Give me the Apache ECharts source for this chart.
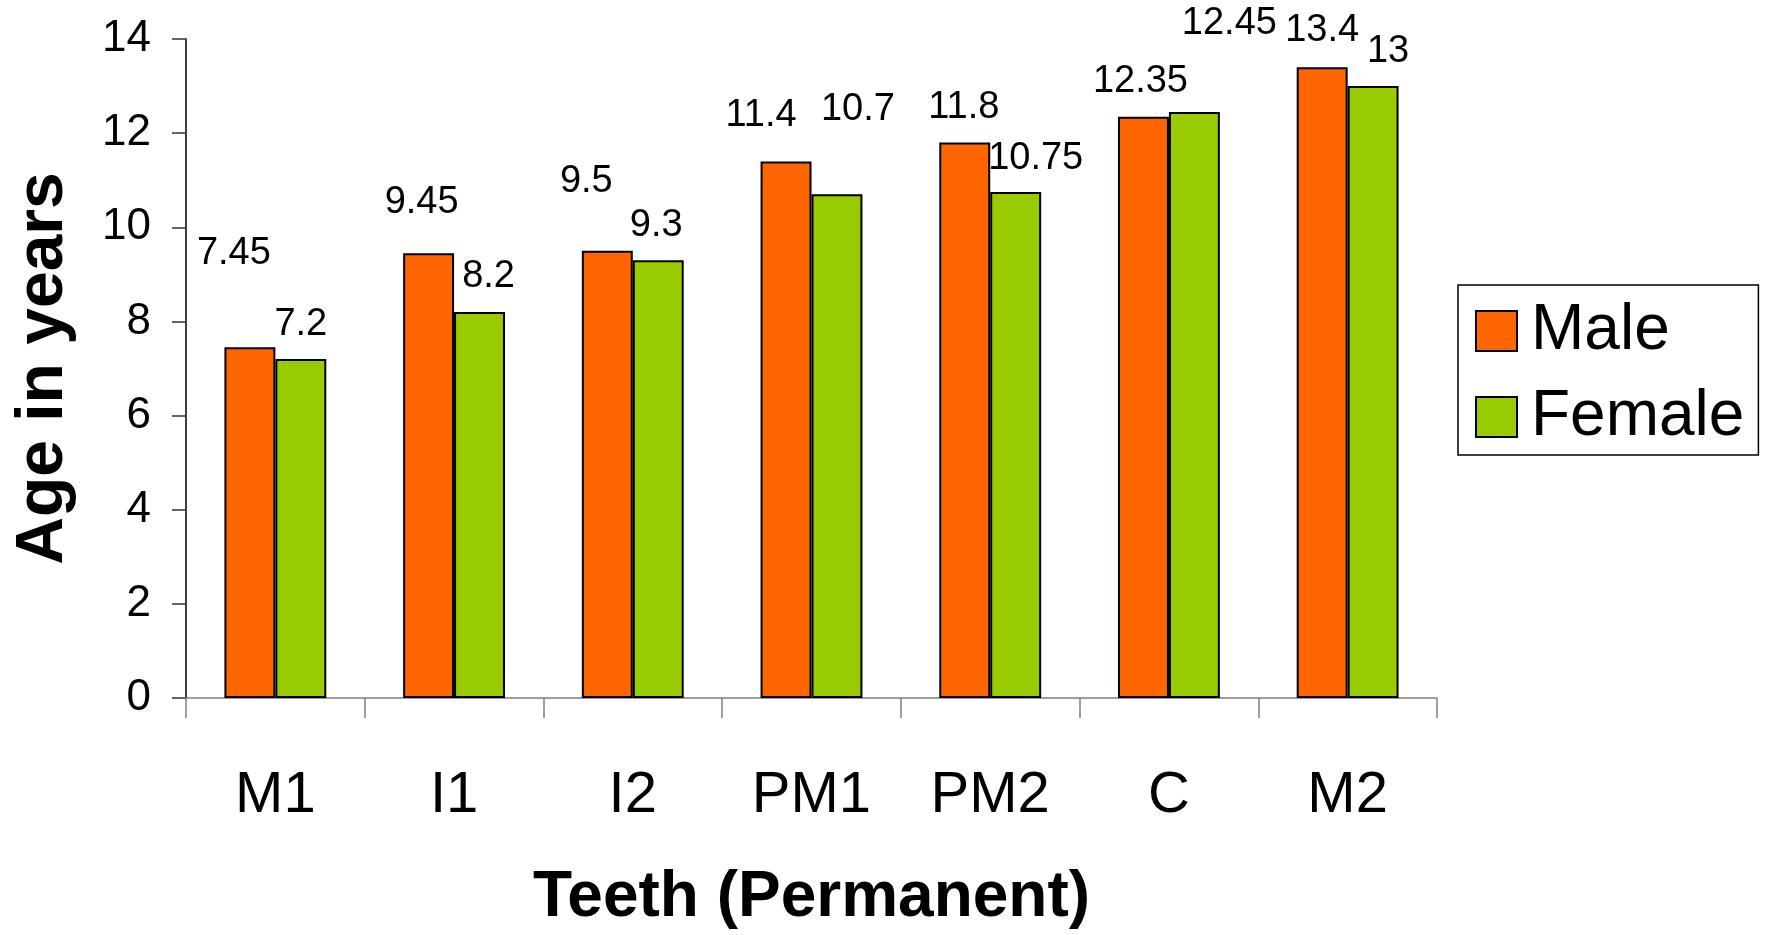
<!DOCTYPE html>
<html>
<head>
<meta charset="utf-8">
<script src="https://cdn.jsdelivr.net/npm/echarts@6/dist/echarts.min.js"></script>
<style>
html,body{margin:0;padding:0;background:#fff;}
#chart{width:1765px;height:935px;}
</style>
</head>
<body>
<div id="chart"></div>
<script>
// ---- data ----
const categories = ['M1', 'I1', 'I2', 'PM1', 'PM2', 'C', 'M2'];
const maleValues = [7.45, 9.45, 9.5, 11.4, 11.8, 12.35, 13.4];
const femaleValues = [7.2, 8.2, 9.3, 10.7, 10.75, 12.45, 13];
const yTicks = { min: 0, max: 14, interval: 2 };

// ---- label nudges (relative pixel offsets of the value labels) ----
const maleLabelNudge = [[-16,-59],[-7,-16],[-21,-34],[-25,-11],[-1,0],[-3,0],[0,-2]];
const femaleLabelNudge = [[0,0],[9,0],[-2,0],[21,-50],[20,2],[35,-53],[15,0]];

const FONT = '"Liberation Sans", Arial, sans-serif';

function buildData(values, nudges) {
  return values.map((v, i) => ({
    value: v,
    label: { offset: nudges[i] }
  }));
}

const labelStyle = {
  show: true,
  position: 'top',
  distance: 16,
  fontFamily: FONT,
  fontSize: 38,
  color: '#000'
};

const chart = echarts.init(document.getElementById('chart'), null, { renderer: 'canvas' });
chart.setOption({
  backgroundColor: '#fff',
  animation: false,
  grid: { left: 186, right: 328, top: 39, bottom: 236, containLabel: false },
  legend: {
    orient: 'vertical',
    left: 1458,
    top: 285,
    padding: [13, 14, 5, 17],
    itemGap: 20,
    itemWidth: 41,
    itemHeight: 40,
    icon: 'rect',
    borderColor: '#000',
    borderWidth: 1.5,
    textStyle: { fontFamily: FONT, fontSize: 64, color: '#000', lineHeight: 66, padding: [0, 0, 0, 9] },
    data: ['Male', 'Female']
  },
  xAxis: {
    type: 'category',
    data: categories,
    name: 'Teeth (Permanent)',
    nameLocation: 'middle',
    nameGap: 168,
    nameTextStyle: { fontFamily: FONT, fontSize: 64, fontWeight: 'bold', color: '#000' },
    axisLine: { show: true, lineStyle: { color: '#808080', width: 1.5 } },
    axisTick: { show: true, length: 20, alignWithLabel: false, lineStyle: { color: '#808080', width: 1.5 } },
    axisLabel: { fontFamily: FONT, fontSize: 58, color: '#000', margin: 69 },
    splitLine: { show: false }
  },
  yAxis: {
    type: 'value',
    min: yTicks.min,
    max: yTicks.max,
    interval: yTicks.interval,
    name: 'Age in years',
    nameLocation: 'middle',
    nameGap: 109,
    nameRotate: 90,
    nameTextStyle: { fontFamily: FONT, fontSize: 66, fontWeight: 'bold', color: '#000' },
    axisLine: { show: true, lineStyle: { color: '#000', width: 1.5 } },
    axisTick: { show: true, length: 14, lineStyle: { color: '#333', width: 1.5 } },
    axisLabel: { fontFamily: FONT, fontSize: 44, color: '#000', margin: 35 },
    splitLine: { show: false }
  },
  series: [
    {
      name: 'Male',
      type: 'bar',
      data: buildData(maleValues, maleLabelNudge),
      barGap: '0%',
      barCategoryGap: '43%',
      itemStyle: { color: '#FF6600', borderColor: '#000', borderWidth: 2 },
      label: labelStyle
    },
    {
      name: 'Female',
      type: 'bar',
      data: buildData(femaleValues, femaleLabelNudge),
      barGap: '0%',
      barCategoryGap: '43%',
      itemStyle: { color: '#99CC00', borderColor: '#000', borderWidth: 2 },
      label: labelStyle
    }
  ]
});
</script>
</body>
</html>
